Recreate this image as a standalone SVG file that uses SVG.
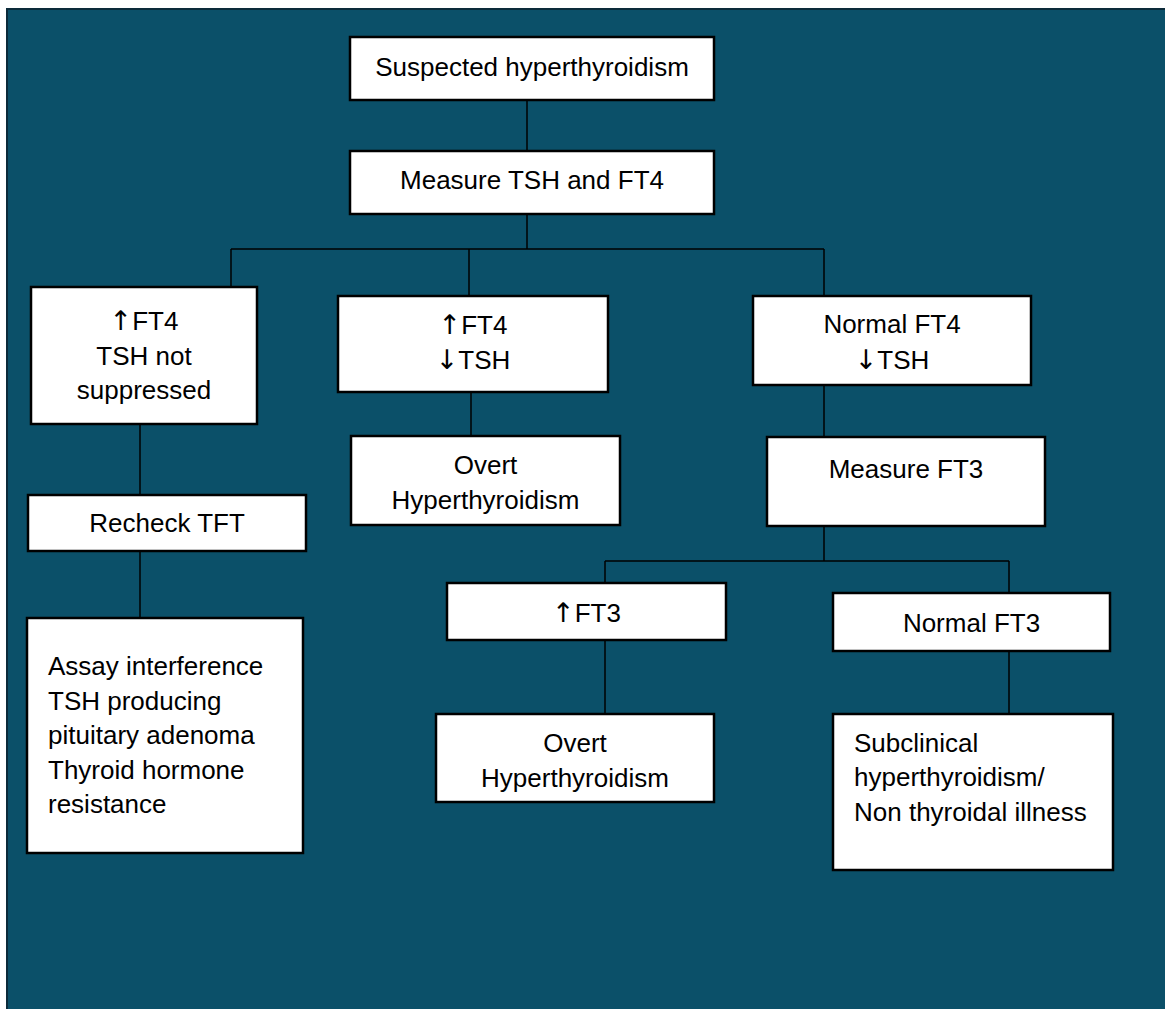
<svg xmlns="http://www.w3.org/2000/svg" width="1165" height="1009" viewBox="0 0 1165 1009">
<style>
.box{fill:#ffffff;stroke:#000000;stroke-width:2.5}
.t{font-family:"Liberation Sans",Arial,sans-serif;font-size:26px;fill:#000000}
.c{text-anchor:middle}
.ar{font-family:"DejaVu Sans",sans-serif;font-size:27px}
.conn{stroke:#000000;stroke-width:1.5;fill:none}
</style>
<rect x="0" y="0" width="1165" height="1009" fill="#ffffff"/>
<rect id="background" x="7" y="9" width="1170" height="1010" fill="#0B5069" stroke="#0c2b3a" stroke-width="2"/>
<g id="connectors">
<path class="conn" d="M527 100V151"/>
<path class="conn" d="M527 214V249"/>
<path class="conn" d="M231 249H824"/>
<path class="conn" d="M231 249V287"/>
<path class="conn" d="M469 249V296"/>
<path class="conn" d="M824 249V296"/>
<path class="conn" d="M140 424V495"/>
<path class="conn" d="M140 551V618"/>
<path class="conn" d="M471 392V436"/>
<path class="conn" d="M824 385V437"/>
<path class="conn" d="M824 526V561"/>
<path class="conn" d="M605 561H1009"/>
<path class="conn" d="M605 561V583"/>
<path class="conn" d="M1009 561V593"/>
<path class="conn" d="M605 640V714"/>
<path class="conn" d="M1009 651V714"/>
</g>
<g id="n1"><rect class="box" x="350" y="37" width="364" height="63"/><text class="t c" x="532" y="76">Suspected hyperthyroidism</text></g>
<g id="n2"><rect class="box" x="350" y="151" width="364" height="63"/><text class="t c" x="532" y="189">Measure TSH and FT4</text></g>
<g id="n3"><rect class="box" x="31" y="287" width="226" height="137"/><text class="t c" x="144" y="330"><tspan class="ar">↑</tspan>FT4</text><text class="t c" x="144" y="364.5">TSH not</text><text class="t c" x="144" y="399">suppressed</text></g>
<g id="n4"><rect class="box" x="338" y="296" width="270" height="96"/><text class="t c" x="473" y="334"><tspan class="ar">↑</tspan>FT4</text><text class="t c" x="473" y="369"><tspan class="ar">↓</tspan>TSH</text></g>
<g id="n5"><rect class="box" x="753" y="296" width="278" height="89"/><text class="t c" x="892" y="333">Normal FT4</text><text class="t c" x="892" y="369"><tspan class="ar">↓</tspan>TSH</text></g>
<g id="n6"><rect class="box" x="28" y="495" width="278" height="56"/><text class="t c" x="167" y="532">Recheck TFT</text></g>
<g id="n7"><rect class="box" x="351" y="436" width="269" height="89"/><text class="t c" x="485.5" y="474">Overt</text><text class="t c" x="485.5" y="509">Hyperthyroidism</text></g>
<g id="n8"><rect class="box" x="767" y="437" width="278" height="89"/><text class="t c" x="906" y="478">Measure FT3</text></g>
<g id="n9"><rect class="box" x="27" y="618" width="276" height="235"/><text class="t" x="48" y="675">Assay interference</text><text class="t" x="48" y="709.5">TSH producing</text><text class="t" x="48" y="744">pituitary adenoma</text><text class="t" x="48" y="778.5">Thyroid hormone</text><text class="t" x="48" y="813">resistance</text></g>
<g id="n10"><rect class="box" x="447" y="583" width="279" height="57"/><text class="t c" x="586.5" y="622"><tspan class="ar">↑</tspan>FT3</text></g>
<g id="n11"><rect class="box" x="833" y="593" width="277" height="58"/><text class="t c" x="971.5" y="632">Normal FT3</text></g>
<g id="n12"><rect class="box" x="436" y="714" width="278" height="88"/><text class="t c" x="575" y="752">Overt</text><text class="t c" x="575" y="787">Hyperthyroidism</text></g>
<g id="n13"><rect class="box" x="833" y="714" width="280" height="156"/><text class="t" x="854" y="752">Subclinical</text><text class="t" x="854" y="786">hyperthyroidism/</text><text class="t" x="854" y="820.5">Non thyroidal illness</text></g>
</svg>
